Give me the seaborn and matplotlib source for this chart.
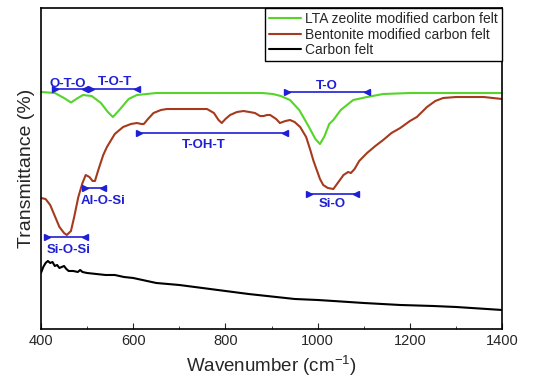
import numpy as np
import pandas as pd
import matplotlib
matplotlib.use("Agg")
import matplotlib.pyplot as plt
import seaborn as sns

# espectros FTIR (unidades arbitrarias de transmitancia)
wn_lta = [400, 430, 450, 465, 480, 491, 510, 530, 545, 556, 570, 590, 608, 650, 700,
          800, 880, 903, 920, 940, 960, 980, 995, 1005, 1015, 1025, 1034, 1050, 1077,
          1107, 1142, 1200, 1400]
t_lta = [237, 236, 231, 226.5, 231, 234, 233, 226, 217, 212, 219, 230, 234, 236, 236,
         236, 236, 235, 233, 229, 219, 203, 190, 185, 193, 205, 209, 219, 229,
         232, 235, 236, 236]

wn_ben = [400, 410, 420, 430, 440, 450, 456, 465, 472, 481, 490, 497, 505, 512, 517,
          525, 535, 543, 560, 578, 595, 608, 618, 623, 632, 644, 660, 673, 720, 760,
          775, 785, 792, 800, 810, 825, 839, 852, 864, 875, 883, 890, 897, 910, 918,
          930, 940, 950, 962, 975, 984, 991, 998, 1005, 1012, 1022, 1034, 1045, 1056,
          1066, 1072, 1080, 1090, 1107, 1125, 1142, 1160, 1179, 1200, 1215, 1237, 1255,
          1272, 1300, 1324, 1360, 1400]
t_ben = [131, 130, 124, 113, 102, 96, 94, 98, 112, 132, 146, 154, 152, 148, 148,
         160, 174, 182, 195, 202, 205, 206, 205, 205, 210, 216, 219, 220, 220, 220,
         216, 209, 206, 210, 214, 217, 218, 217, 216, 213, 213, 214, 214, 210, 206,
         208, 209, 207, 202, 192, 179, 168, 159, 150, 144, 141, 140, 147, 154,
         157, 156, 160, 168, 176, 183, 189, 196, 201, 208, 212, 222, 228,
         231, 232, 232, 232, 230]

wn_cf = [400, 405, 410, 415, 420, 425, 430, 435, 440, 445, 450, 455, 460, 470, 480,
         485, 490, 500, 520, 540, 560, 580, 600, 620, 650, 700, 750, 800, 850, 890,
         950, 1000, 1034, 1100, 1179, 1250, 1300, 1400]
t_cf = [56, 62, 66, 68, 66, 67, 63, 64, 61, 62, 63, 60, 58, 58, 57,
        59, 57, 56, 55, 54, 54, 52, 51, 49, 46, 44, 41, 38, 35, 33,
        30, 29, 28, 26, 24, 23, 22, 19]

# bandas: etiqueta, inicio, fin, altura barra, x texto, y texto
bandas = ["O-T-O", "T-O-T", "T-O", "T-OH-T", "Al-O-Si", "Si-O", "Si-O-Si"]
b_ini = [430, 508, 933, 613, 495, 982, 412]
b_fin = [495, 608, 1107, 929, 535, 1083, 495]
b_y = [240, 240, 237, 196, 141, 135, 92]
t_x = [458, 560, 1020, 752, 535, 1032, 461]
t_y = [245, 247, 243, 184, 128, 125, 79]

sns.set_style("white")
plt.rcParams["font.family"] = ["Liberation Sans", "DejaVu Sans"]
plt.rcParams["mathtext.default"] = "regular"

df = pd.concat([
    pd.DataFrame({"wn": wn_lta, "t": t_lta, "serie": "LTA zeolite modified carbon felt"}),
    pd.DataFrame({"wn": wn_ben, "t": t_ben, "serie": "Bentonite modified carbon felt"}),
    pd.DataFrame({"wn": wn_cf, "t": t_cf, "serie": "Carbon felt"}),
])
colores = {"LTA zeolite modified carbon felt": "#55d42a",
           "Bentonite modified carbon felt": "#a63a1e",
           "Carbon felt": "black"}

fig = plt.figure(figsize=(5.5, 3.91), dpi=100)
ax = fig.add_axes([0.0745, 0.1586, 0.8385, 0.8209])
sns.lineplot(data=df, x="wn", y="t", hue="serie", palette=colores, sort=False,
             linewidth=1.5, ax=ax)

azul = "#1f1fd6"
for i in range(len(bandas)):
    ax.plot([b_ini[i], b_fin[i]], [b_y[i], b_y[i]], color=azul, lw=1.2)
    ax.plot(b_ini[i], b_y[i], marker=">", color=azul, ms=4)
    ax.plot(b_fin[i], b_y[i], marker="<", color=azul, ms=4)
    ax.text(t_x[i], t_y[i], bandas[i], color=azul, fontsize=9.5, fontweight="bold",
            ha="center", va="center")

ax.set_xlim(400, 1400)
ax.set_ylim(0, 321)
ax.set_xticks([400, 600, 800, 1000, 1200, 1400])
ax.set_xticks(range(500, 1400, 200), minor=True)
ax.set_yticks([])
ax.tick_params(axis="x", which="both", direction="in", bottom=True, labelsize=10.5)
ax.tick_params(axis="x", which="major", length=4)
ax.tick_params(axis="x", which="minor", length=2.5)
for s in ax.spines.values():
    s.set_color("black")
    s.set_linewidth(1.2)
ax.set_xlabel("Wavenumber (cm$^{-1}$)", fontsize=13.5)
ax.set_ylabel("Transmittance (%)", fontsize=14)

leg = ax.legend(loc="upper right", borderaxespad=0, fontsize=10, fancybox=False,
                framealpha=1, edgecolor="black", handlelength=2.3, handletextpad=0.3,
                borderpad=0.3, labelspacing=0.1)
leg.get_frame().set_linewidth(1.0)

fig.savefig("out.png", dpi=100)
